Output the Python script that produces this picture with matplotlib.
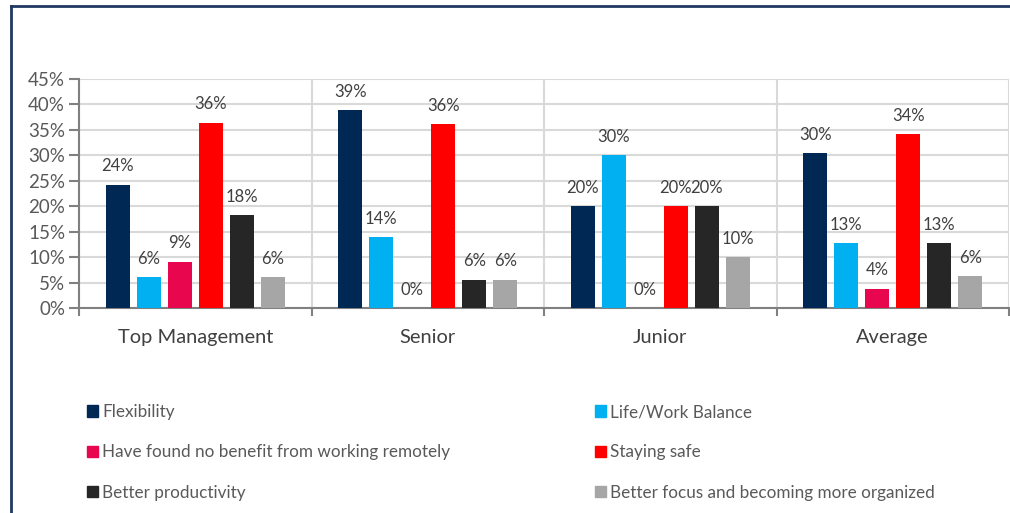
import matplotlib
matplotlib.use("Agg")
import matplotlib.pyplot as plt
import matplotlib.patches as mpatches
from matplotlib.ticker import FixedLocator, FuncFormatter
import numpy as np

plt.rcParams['font.family'] = ['Lato', 'DejaVu Sans']

# Share of respondents (%) per seniority level
groups = ['Top Management', 'Senior', 'Junior', 'Average']
series = ['Flexibility', 'Life/Work Balance',
          'Have found no benefit from working remotely', 'Staying safe',
          'Better productivity', 'Better focus and becoming more organized']
flexibility = [24.2, 38.9, 20.0, 30.4]
life_work = [6.1, 13.9, 30.0, 12.7]
no_benefit = [9.1, 0.0, 0.0, 3.8]
staying_safe = [36.4, 36.1, 20.0, 34.2]
productivity = [18.2, 5.6, 20.0, 12.7]
focus = [6.1, 5.6, 10.0, 6.3]
colors = ['#002855', '#00B0F0', '#E8064F', '#FF0000', '#262626', '#A6A6A6']

values = [flexibility, life_work, no_benefit, staying_safe, productivity, focus]

fig = plt.figure(figsize=(10.1, 5.13), dpi=100)
ax = fig.add_axes([79 / 1010, 1 - 308 / 513, 930 / 1010, 229 / 513])

x = np.arange(len(groups))
step = 0.1333
width = 0.105
handles = []
for j, (vals, name, c) in enumerate(zip(values, series, colors)):
    bars = ax.bar(x + (j - 2.5) * step, vals, width, color=c, label=name, zorder=3)
    ax.bar_label(bars, labels=[f"{v:.0f}%" for v in vals], padding=7.5,
                 fontsize=12, color='#404040')
    handles.append(mpatches.Patch(color=c, label=name))

ax.set_xlim(-0.5, len(groups) - 0.5)
ax.set_ylim(0, 45)
ax.set_yticks(np.arange(0, 46, 5))
ax.yaxis.set_major_formatter(FuncFormatter(lambda v, p: f"{v:.0f}%"))
ax.set_xticks(x)
ax.set_xticklabels(groups)
ax.xaxis.set_minor_locator(FixedLocator(np.arange(-0.5, len(groups), 1.0)))

ax.tick_params(axis='x', which='major', length=0, pad=15, labelsize=14.4, labelcolor='#404040')
ax.tick_params(axis='x', which='minor', length=6, width=1.5, color='#808080', direction='out')
ax.tick_params(axis='y', length=7, width=1.5, color='#808080', labelsize=13.5, labelcolor='#595959', pad=3)

ax.grid(axis='y', color='#D9D9D9', linewidth=1.5, zorder=0)
ax.grid(axis='x', which='minor', color='#D9D9D9', linewidth=1.5, zorder=0)
ax.set_axisbelow(True)
for s in ['top', 'right']:
    ax.spines[s].set_visible(False)
for s in ['left', 'bottom']:
    ax.spines[s].set_color('#808080')
    ax.spines[s].set_linewidth(1.5)

# Legend split into two columns
leg_kw = dict(frameon=False, fontsize=12.3, handlelength=0.65, handleheight=0.65,
              handletextpad=0.25, labelspacing=1.42, borderaxespad=0, borderpad=0,
              labelcolor='#595959', loc='upper left')
fig.legend(handles=[handles[0], handles[2], handles[4]],
           bbox_to_anchor=(87 / 1010, 1 - 404 / 513), **leg_kw)
fig.legend(handles=[handles[1], handles[3], handles[5]],
           bbox_to_anchor=(595 / 1010, 1 - 404 / 513), **leg_kw)

# Frame around the chart
fig.add_artist(plt.Line2D([11 / 1010, 11 / 1010], [0, 1 - 6 / 513],
                          transform=fig.transFigure, color='#1F3864', linewidth=2))
fig.add_artist(plt.Line2D([11 / 1010, 1], [1 - 6 / 513, 1 - 6 / 513],
                          transform=fig.transFigure, color='#1F3864', linewidth=2))

fig.savefig('out.png', dpi=100)
